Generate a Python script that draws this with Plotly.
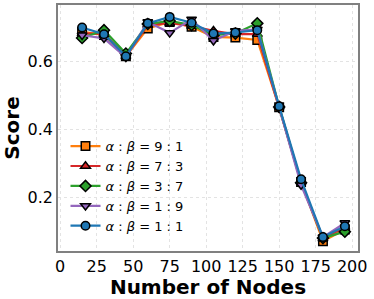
import plotly.graph_objects as go

nodes = [15, 30, 45, 60, 75, 90, 105, 120, 135, 150, 165, 180, 195]
s_9_1 = [0.687, 0.678, 0.615, 0.697, 0.716, 0.702, 0.672, 0.670, 0.663, 0.465, 0.245, 0.071, 0.105]
s_7_3 = [0.682, 0.682, 0.615, 0.707, 0.713, 0.704, 0.690, 0.680, 0.680, 0.466, 0.245, 0.078, 0.112]
s_3_7 = [0.669, 0.692, 0.623, 0.710, 0.719, 0.707, 0.677, 0.682, 0.712, 0.466, 0.243, 0.080, 0.099]
s_1_9 = [0.677, 0.668, 0.612, 0.716, 0.684, 0.724, 0.661, 0.690, 0.694, 0.463, 0.236, 0.083, 0.125]
s_1_1 = [0.700, 0.680, 0.615, 0.712, 0.731, 0.714, 0.682, 0.685, 0.692, 0.468, 0.253, 0.083, 0.115]

labels = ["<i>α</i> : <i>β</i> = 9 : 1", "<i>α</i> : <i>β</i> = 7 : 3",
          "<i>α</i> : <i>β</i> = 3 : 7", "<i>α</i> : <i>β</i> = 1 : 9",
          "<i>α</i> : <i>β</i> = 1 : 1"]
colors = ["#ff7f0e", "#d62728", "#2ca02c", "#9467bd", "#1f77b4"]
symbols = ["square", "triangle-up", "diamond", "triangle-down", "circle"]
series = [s_9_1, s_7_3, s_3_7, s_1_9, s_1_1]

fig = go.Figure()
for ys, lab, c, sym in zip(series, labels, colors, symbols):
    fig.add_trace(go.Scatter(
        x=nodes, y=ys, name=lab, mode="lines+markers",
        line=dict(color=c, width=2.2),
        marker=dict(symbol=sym, size=8.5, color=c, line=dict(color="black", width=1.5)),
    ))

fig.update_layout(
    width=374, height=299,
    margin=dict(l=58, r=16, t=5, b=48),
    paper_bgcolor="white", plot_bgcolor="white",
    font=dict(family="DejaVu Sans", color="black"),
    showlegend=True,
    legend=dict(x=0.025, y=0.04, xanchor="left", yanchor="bottom",
                bgcolor="rgba(255,255,255,0)", font=dict(size=13),
                itemwidth=30, tracegroupgap=0),
    xaxis=dict(range=[-1.5, 204], tickvals=[0, 25, 50, 75, 100, 125, 150, 175, 200],
               tickfont=dict(size=16), showline=True, mirror=True, linecolor="#808080",
               linewidth=1.5, showgrid=True, gridcolor="#e3e3e3", griddash="dot",
               zeroline=False, ticks="", automargin=False, ticklabeloverflow="allow",
               title=dict(text="<b>Number of Nodes</b>", font=dict(size=20), standoff=0)),
    yaxis=dict(range=[0.042, 0.766], tickvals=[0.2, 0.4, 0.6],
               tickfont=dict(size=16), showline=True, mirror=True, linecolor="#808080",
               linewidth=1.5, showgrid=True, gridcolor="#e3e3e3", griddash="dot",
               zeroline=False, ticks="", automargin=False,
               title=dict(text="<b>Score</b>", font=dict(size=20), standoff=4)),
)

fig.write_html("out.html", config={"displayModeBar": False},
               post_script="document.body.style.margin='0';document.body.style.padding='0';")
